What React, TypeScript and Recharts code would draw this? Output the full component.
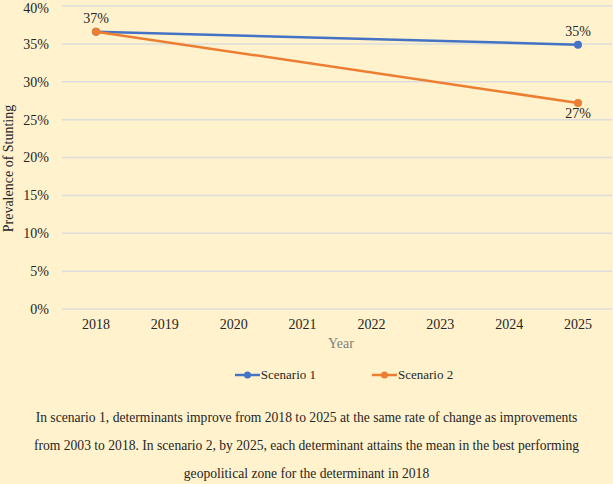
import { LineChart, Line, XAxis, YAxis, CartesianGrid, Legend, LabelList } from 'recharts'

const years = ['2018', '2019', '2020', '2021', '2022', '2023', '2024', '2025']
const scenario1 = [0.366, null, null, null, null, null, null, 0.349]
const scenario2 = [0.366, null, null, null, null, null, null, 0.272]
const yTicks = [0, 0.05, 0.1, 0.15, 0.2, 0.25, 0.3, 0.35, 0.4]

const BLUE = '#4472C4'
const ORANGE = '#ED7D31'
const FONT = '"Liberation Serif", "Times New Roman", serif'

const chartData = years.map((year, i) => ({
  year,
  s1: scenario1[i],
  s2: scenario2[i]
}))

const pct = (v: number) => `${Math.round(v * 100)}%`

// label above the point (scenario 1) or below it (scenario 2)
const makeLabel = (below: boolean, skipFirst: boolean) => (props: any) => {
  const { x, y, value, index } = props
  if (value == null || (skipFirst && index === 0)) return null
  return (
    <text
      x={x}
      y={below ? y + 11 : y - 13}
      textAnchor="middle"
      dominantBaseline="central"
      fontSize={14}
      fill="#262626"
      fontFamily={FONT}
    >
      {pct(value)}
    </text>
  )
}

const LegendContent = () => (
  <div style={{ height: 41, display: 'flex', justifyContent: 'center', alignItems: 'center', gap: 56, paddingLeft: 76, fontSize: 13, color: '#262626', fontFamily: FONT }}>
    {[
      { name: 'Scenario 1', color: BLUE },
      { name: 'Scenario 2', color: ORANGE }
    ].map(item => (
      <span key={item.name} style={{ display: 'flex', alignItems: 'center', gap: 1 }}>
        <svg width={25} height={10}>
          <line x1={0} y1={5} x2={25} y2={5} stroke={item.color} strokeWidth={2.5} />
          <circle cx={12.5} cy={5} r={3.5} fill={item.color} />
        </svg>
        {item.name}
      </span>
    ))}
  </div>
)

export default function App() {
  return (
    <div style={{ position: 'absolute', left: 0, top: 0, width: 613, height: 484, background: '#FFF2CC', fontFamily: FONT }}>
      <LineChart
        width={613}
        height={395}
        data={chartData}
        margin={{ top: 6, right: 1, left: 0, bottom: 0 }}
      >
        <CartesianGrid vertical={false} stroke="#DCDCDC" strokeWidth={1.5} />
        <XAxis
          dataKey="year"
          height={45}
          padding={{ left: 34, right: 34 }}
          axisLine={false}
          tickLine={false}
          tickSize={0}
          tickMargin={10}
          tick={{ fontSize: 14, fill: '#262626' }}
          label={{ value: 'Year', position: 'insideBottom', offset: 6, dx: 4, fontSize: 14, fill: '#7F7F7F' }}
        />
        <YAxis
          width={62}
          domain={[0, 0.4]}
          ticks={yTicks}
          tickFormatter={pct}
          axisLine={false}
          tickLine={false}
          tickSize={0}
          tickMargin={13}
          tick={{ fontSize: 14, fill: '#262626' }}
          label={({ viewBox }: any) => (
            <text
              x={viewBox.x + 8}
              y={viewBox.y + viewBox.height / 2 + 11}
              transform={`rotate(-90 ${viewBox.x + 8} ${viewBox.y + viewBox.height / 2 + 11})`}
              textAnchor="middle"
              dominantBaseline="central"
              fontSize={14}
              fill="#262626"
              fontFamily={FONT}
            >
              Prevalence of Stunting
            </text>
          )}
        />
        <Legend verticalAlign="bottom" height={41} content={<LegendContent />} />
        <Line
          dataKey="s1"
          name="Scenario 1"
          stroke={BLUE}
          strokeWidth={2.5}
          dot={{ r: 4, fill: BLUE, stroke: BLUE, strokeWidth: 0 }}
          connectNulls
          isAnimationActive={false}
        >
          <LabelList dataKey="s1" content={makeLabel(false, false)} />
        </Line>
        <Line
          dataKey="s2"
          name="Scenario 2"
          stroke={ORANGE}
          strokeWidth={2.5}
          dot={{ r: 4, fill: ORANGE, stroke: ORANGE, strokeWidth: 0 }}
          connectNulls
          isAnimationActive={false}
        >
          <LabelList dataKey="s2" content={makeLabel(true, true)} />
        </Line>
      </LineChart>
      <div style={{ paddingTop: 9, fontSize: 13.6, lineHeight: '28px', textAlign: 'center', color: '#262626' }}>
        In scenario 1, determinants improve from 2018 to 2025 at the same rate of change as improvements
        <br />
        from 2003 to 2018. In scenario 2, by 2025, each determinant attains the mean in the best performing
        <br />
        geopolitical zone for the determinant in 2018
      </div>
    </div>
  )
}
